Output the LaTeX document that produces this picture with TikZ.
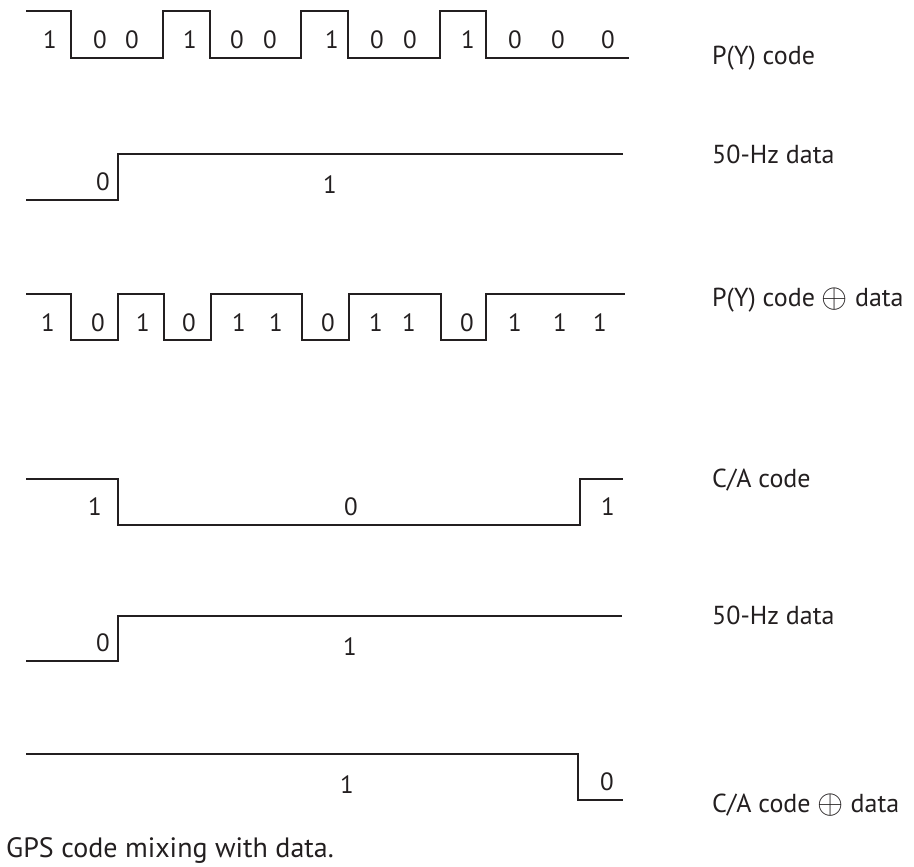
\documentclass[tikz,border=0pt]{standalone}
\usepackage{fontspec}
\setmainfont{PT Sans}
\definecolor{ink}{HTML}{231F20}
\newcommand{\xorsym}{\raisebox{-0.1ex}{\scalebox{1.35}{$\oplus$}}}
\begin{document}
\begin{tikzpicture}[x=1pt,y=-1pt,
  wave/.style={line width=1.8pt, draw=ink, line join=miter},
  bit/.style={font=\fontsize{25}{27}\selectfont, text=ink, inner sep=0pt},
  siglabel/.style={anchor=west, font=\fontsize{26}{28}\selectfont, text=ink, inner sep=0pt},
  caption/.style={anchor=west, font=\fontsize{28}{30}\selectfont, text=ink, inner sep=0pt}]
\useasboundingbox (0,0) rectangle (914,867);

% P(Y) code chips
\draw[wave] (26,11) -- (71,11) -- (71,58) -- (163,58) -- (163,11) -- (210,11)
  -- (210,58) -- (301,58) -- (301,11) -- (348,11) -- (348,58) -- (440,58)
  -- (440,11) -- (486,11) -- (486,58) -- (629,58);
\foreach \x/\b [count=\i] in {50/1,100/0,132/0,190/1,237/0,270/0,332/1,377/0,410/0,468/1,515/0,558/0,608/0}
  \node[bit] (pyb\i) at (\x,40) {\b};
\node[siglabel] (pylab) at (712,58) {P(Y) code};

% 50-Hz data bit
\draw[wave] (26,200) -- (118,200) -- (118,154) -- (623,154);
\node[bit] (da0) at (103,182) {0};
\node[bit] (da1) at (330,185) {1};
\node[siglabel] (dalab) at (712,154) {50-Hz data};

% P(Y) code xor data
\draw[wave] (26,294) -- (71,294) -- (71,340) -- (118,340) -- (118,294) -- (164,294)
  -- (164,340) -- (211,340) -- (211,294) -- (302,294) -- (302,340) -- (349,340)
  -- (349,294) -- (441,294) -- (441,340) -- (486,340) -- (486,294) -- (625,294);
\foreach \x/\b [count=\i] in {48/1,98/0,143/1,189/0,239/1,276/1,328/0,376/1,409/1,467/0,515/1,560/1,600/1}
  \node[bit] (pxb\i) at (\x,323) {\b};
\node[siglabel] (pxlab) at (712,300) {P(Y) code \xorsym{} data};

% C/A code chips
\draw[wave] (26,479) -- (118,479) -- (118,525) -- (580,525) -- (580,479) -- (623,479);
\node[bit] (ca1) at (95,507) {1};
\node[bit] (ca2) at (351,507) {0};
\node[bit] (ca3) at (608,507) {1};
\node[siglabel] (calab) at (712,480) {C/A code};

% 50-Hz data bit (second copy)
\draw[wave] (26,661) -- (118,661) -- (118,616) -- (622,616);
\node[bit] (db0) at (103,643) {0};
\node[bit] (db1) at (350,647) {1};
\node[siglabel] (dblab) at (712,615) {50-Hz data};

% C/A code xor data
\draw[wave] (26,754) -- (578,754) -- (578,800) -- (623,800);
\node[bit] (cx1) at (347,785) {1};
\node[bit] (cx2) at (607,782) {0};
\node[siglabel] (cxlab) at (712,805) {C/A code \xorsym{} data};

\node[caption] (cap) at (6,850) {GPS code mixing with data.};
\end{tikzpicture}
\end{document}
